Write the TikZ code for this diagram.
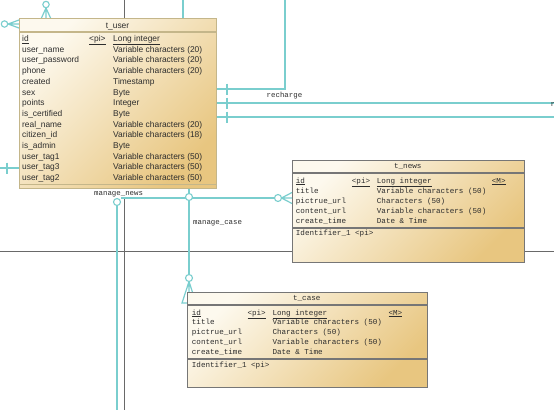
\documentclass[tikz,border=0pt]{standalone}
\usepackage{fontspec}
\setmainfont{Liberation Sans}
\newfontfamily\monof{Liberation Mono}
\definecolor{rel}{RGB}{122,206,206}
\definecolor{pgline}{RGB}{105,105,105}
\definecolor{boxl}{RGB}{253,249,238}
\definecolor{boxd}{RGB}{232,198,128}
\definecolor{ubord}{RGB}{196,182,138}
\definecolor{mbord}{RGB}{118,118,118}
\definecolor{txt}{RGB}{45,45,45}
\begin{document}
\begin{tikzpicture}[x=1pt,y=-1pt,
  ent/.style={line width=1pt, left color=boxl, right color=boxd, shading angle=45,
    inner sep=0pt, anchor=north west, minimum width=#1},
  relln/.style={draw=rel, line width=1.2pt},
  pgln/.style={draw=pgline, line width=0.9pt},
  circ/.style={draw=rel, line width=1.1pt, fill=white},
  ut/.style={font=\fontsize{8.4}{9}\selectfont, text=txt, inner sep=0pt, anchor=base west},
  mt/.style={font=\monof\fontsize{7.6}{9}\selectfont, text=txt, inner sep=0pt, anchor=base west},
  lbl/.style={font=\monof\fontsize{7.4}{9}\selectfont, text=txt, inner sep=0pt, anchor=base west}
]
\useasboundingbox (0,0) rectangle (554,410);
\clip (0,0) rectangle (554,410);
\fill[white] (0,0) rectangle (554,410);

% page boundary lines
\coordinate (pgA) at (124,0);
\coordinate (pgB) at (124,410);
\coordinate (pgC) at (124,197);
\coordinate (pgL) at (0,251);
\coordinate (pgR) at (554,251);
\draw[pgln] (pgA) -- (124,20);
\draw[pgln] (pgC) -- (pgB);
\draw[pgln] (pgL) -- (pgR);

% relationship lines (drawn before boxes)
\coordinate (r1top) at (285,0);
\coordinate (r2end) at (554,103);
\coordinate (r3end) at (554,117);
\coordinate (r4top) at (183,0);
\coordinate (lfree) at (0,168);
\coordinate (mnbot) at (117,410);

\draw[relln] (216,89) -- (285,89) -- (r1top);
\draw[relln] (216,103) -- (r2end);
\draw[relln] (216,117) -- (r3end);
\foreach \yy in {89,103,117} \draw[relln] (227,\yy-5.5) -- (227,\yy+5.5);
\draw[relln] (r4top) -- (183,19);

% top crow's foot
\draw[relln] (46,8) -- (41,19) (46,8) -- (46,19) (46,8) -- (51,19);
\draw[circ] (46,4.5) circle (3.2);
% left crow's foot
\draw[relln] (8,24) -- (19,20) (8,24) -- (19,24) (8,24) -- (19,28);
\draw[circ] (4.5,24) circle (3.2);
% left line with bar
\draw[relln] (lfree) -- (19,168);
\draw[relln] (7,162.5) -- (7,173.5);

% manage_news
\draw[relln] (117,205.5) -- (mnbot);
\draw[relln] (121,198) -- (274.5,198);
\draw[relln] (281.5,198) -- (292,192.5) (281.5,198) -- (292,198) (281.5,198) -- (292,203.5);
\draw[circ] (117,202) circle (3.5);
\draw[circ] (278,198) circle (3.5);

% manage_case
\draw[relln] (189,188) -- (189,193.5);
\draw[relln] (189,200.5) -- (189,274.5);
\draw[relln] (189,281.5) -- (182,303) -- (196,303) -- cycle (189,281.5) -- (189,303);
\draw[circ] (189,197) circle (3.5);
\draw[circ] (189,278) circle (3.5);

\node[lbl] (lrech) at (266.5,97.5) {recharge};
\node[lbl] (lrech2) at (550.5,106) {recharge};
\node[lbl] (lnews) at (94,195.5) {manage\_news};
\node[lbl] (lcase) at (193,224.5) {manage\_case};

% ---------- t_user ----------
\node[ent=197pt, draw=ubord, minimum height=170pt] (user) at (19,18) {};
\draw[ubord, line width=1.3pt] (19,32) -- (216,32);
\draw[ubord, line width=0.9pt] (19,184.5) -- (216,184.5);
\node[ut, anchor=base] (utitle) at (117.5,28) {t\_user};
\node[ut] (u0n) at (22,41.5) {\underline{id}};
\node[ut] (u0p) at (89,41.5) {\underline{<pi>}};
\node[ut] (u0t) at (113,41.5) {\underline{Long integer}};
\foreach \nm/\ty [count=\i] in {user\_name/Variable characters (20),
  user\_password/Variable characters (20), phone/Variable characters (20),
  created/Timestamp, sex/Byte, points/Integer, is\_certified/Byte,
  real\_name/Variable characters (20), citizen\_id/Variable characters (18),
  is\_admin/Byte, user\_tag1/Variable characters (50),
  user\_tag3/Variable characters (50), user\_tag2/Variable characters (50)} {
  \node[ut] (u\i n) at (22,41.5+10.7*\i) {\nm};
  \node[ut] (u\i t) at (113,41.5+10.7*\i) {\ty};
}

% ---------- t_news ----------
\node[ent=231.5pt, draw=mbord, minimum height=102pt] (news) at (292,160) {};
\draw[mbord, line width=1.1pt] (292,173) -- (523.5,173);
\draw[mbord, line width=1.1pt] (292,228) -- (523.5,228);
\node[mt, anchor=base] (ntitle) at (407.75,168.5) {t\_news};
\node[mt] (n0n) at (295.7,183) {\underline{id}};
\node[mt] (n0p) at (351.7,183) {\underline{<pi>}};
\node[mt] (n0t) at (376.7,183) {\underline{Long integer}};
\node[mt] (n0m) at (491.7,183) {\underline{<M>}};
\foreach \nm/\ty [count=\i] in {title/Variable characters (50),
  pictrue\_url/Characters (50), content\_url/Variable characters (50),
  create\_time/Date \& Time} {
  \node[mt] (n\i n) at (295.7,183+10*\i) {\nm};
  \node[mt] (n\i t) at (376.7,183+10*\i) {\ty};
}
\node[mt] (nid) at (295.7,235.5) {Identifier\_1 <pi>};

% ---------- t_case ----------
\node[ent=239.5pt, draw=mbord, minimum height=95pt] (case) at (187,292) {};
\draw[mbord, line width=1.1pt] (187,305) -- (426.5,305);
\draw[mbord, line width=1.1pt] (187,359) -- (426.5,359);
\node[mt, anchor=base] (ctitle) at (306.75,300.5) {t\_case};
\node[mt] (c0n) at (191.7,315) {\underline{id}};
\node[mt] (c0p) at (247.3,315) {\underline{<pi>}};
\node[mt] (c0t) at (272.3,315) {\underline{Long integer}};
\node[mt] (c0m) at (388.3,315) {\underline{<M>}};
\foreach \nm/\ty [count=\i] in {title/Variable characters (50),
  pictrue\_url/Characters (50), content\_url/Variable characters (50),
  create\_time/Date \& Time} {
  \node[mt] (c\i n) at (191.7,315+9.9*\i) {\nm};
  \node[mt] (c\i t) at (272.3,315+9.9*\i) {\ty};
}
\node[mt] (cid) at (191.7,367.5) {Identifier\_1 <pi>};
\end{tikzpicture}
\end{document}
